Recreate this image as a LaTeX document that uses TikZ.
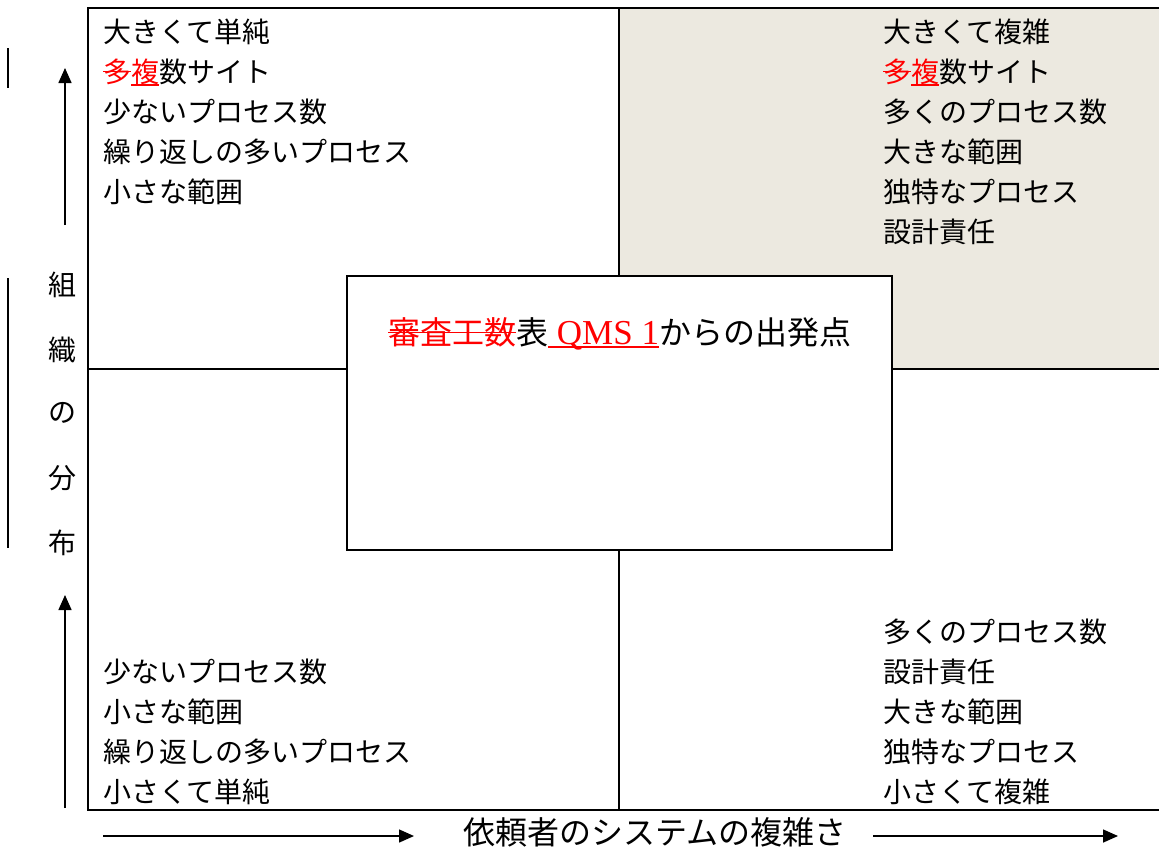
\documentclass[tikz,border=0pt]{standalone}
\usepackage{fontspec}
\usetikzlibrary{arrows.meta}
\newfontfamily\jp{Noto Sans CJK JP}
\newfontfamily\lat{Liberation Serif}
\definecolor{quadshade}{RGB}{236,233,224}
\newsavebox\mkbox
\newcommand\stk[1]{\sbox\mkbox{#1}\rlap{\rule[0.34em]{\wd\mkbox}{1.5pt}}\usebox\mkbox}
\newcommand\ulin[1]{\sbox\mkbox{#1}\rlap{\rule[-4pt]{\wd\mkbox}{1.8pt}}\usebox\mkbox}
\begin{document}
\begin{tikzpicture}[x=1pt,y=-1pt,
  frame/.style={line width=2pt},
  txt/.style={anchor=base west, inner sep=0pt, font=\jp\fontsize{28}{34}\selectfont},
  vtxt/.style={inner sep=0pt, font=\jp\fontsize{28}{34}\selectfont},
  axis/.style={line width=1.5pt,-{Triangle[length=15pt,width=13pt]}},
  bar/.style={line width=2pt}]
\useasboundingbox (0,0) rectangle (1159,847);
% shaded quadrant
\fill[quadshade] (619,8) rectangle (1159,369);
% grid
\draw[frame] (88,8) -- (1159,8);
\draw[frame] (88,7) -- (88,811);
\draw[frame] (88,810) -- (1159,810);
\draw[frame] (88,369) -- (1159,369);
\draw[frame] (619,8) -- (619,810);
% center box
\node[draw, fill=white, line width=2pt, minimum width=545pt, minimum height=274pt, inner sep=0pt] (box) at (619.5,413) {};
\node[txt, font=\jp\fontsize{32}{36}\selectfont] (title) at (388,344)
  {\textcolor{red}{\stk{審査工数}}表\textcolor{red}{\ulin{\lat\fontsize{35}{40}\selectfont\ QMS 1}}からの出発点};
% top-left
\foreach \t [count=\i] in {大きくて単純, {\textcolor{red}{\stk{多}\ulin{複}}数サイト}, 少ないプロセス数, 繰り返しの多いプロセス, 小さな範囲}
  \node[txt] (tl\i) at (103,2+40*\i) {\t};
% top-right
\foreach \t [count=\i] in {大きくて複雑, {\textcolor{red}{\stk{多}\ulin{複}}数サイト}, 多くのプロセス数, 大きな範囲, 独特なプロセス, 設計責任}
  \node[txt] (tr\i) at (883,2+40*\i) {\t};
% bottom-left
\foreach \t [count=\i] in {少ないプロセス数, 小さな範囲, 繰り返しの多いプロセス, 小さくて単純}
  \node[txt] (bl\i) at (103,642+40*\i) {\t};
% bottom-right
\foreach \t [count=\i] in {多くのプロセス数, 設計責任, 大きな範囲, 独特なプロセス, 小さくて複雑}
  \node[txt] (br\i) at (883,602+40*\i) {\t};
% vertical axis label
\foreach \c/\y [count=\i] in {組/285, 織/350, の/413, 分/478, 布/543}
  \node[vtxt] (v\i) at (62,\y) {\c};
\coordinate (b1s) at (8,48); \coordinate (b1e) at (8,88);
\coordinate (b2s) at (8,278); \coordinate (b2e) at (8,548);
\draw[bar] (b1s) -- (b1e);
\draw[bar] (b2s) -- (b2e);
\coordinate (u1s) at (65,225); \coordinate (u1e) at (65,68);
\coordinate (u2s) at (65,808); \coordinate (u2e) at (65,595);
\draw[axis] (u1s) -- (u1e);
\draw[axis] (u2s) -- (u2e);
% horizontal axis label
\node[inner sep=0pt, anchor=base, font=\jp\fontsize{32}{36}\selectfont] (xl) at (655,844) {依頼者のシステムの複雑さ};
\coordinate (h1s) at (103,836); \coordinate (h1e) at (414,836);
\coordinate (h2s) at (873,836); \coordinate (h2e) at (1118,836);
\draw[axis] (h1s) -- (h1e);
\draw[axis] (h2s) -- (h2e);
\end{tikzpicture}
\end{document}
